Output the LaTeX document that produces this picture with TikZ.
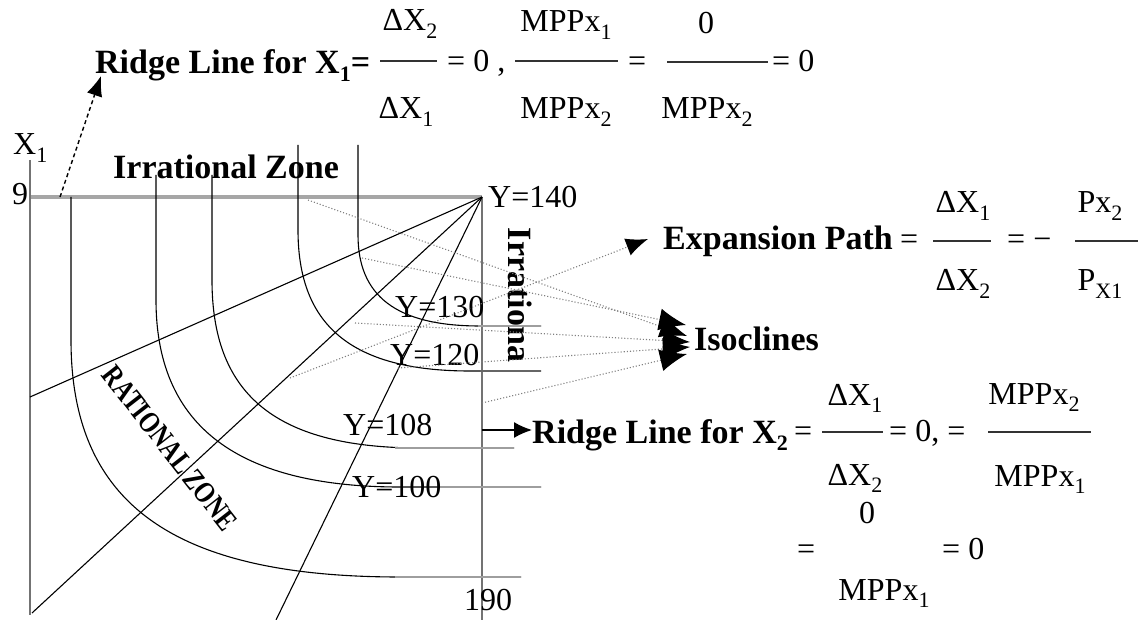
\documentclass[tikz,border=0pt]{standalone}
\usepackage{fontspec}
\setmainfont{Liberation Serif}
\usetikzlibrary{arrows.meta}
\newcommand\subs[1]{\raisebox{-0.22em}{\fontsize{22}{22}\selectfont #1}}
\begin{document}
\begin{tikzpicture}[x=1pt,y=-1pt,
  every node/.style={inner sep=0pt,font=\fontsize{32}{38}\selectfont},
  tx/.style={anchor=base west},
  cx/.style={anchor=base},
  bld/.style={font=\fontsize{34}{40}\selectfont\bfseries},
  isoq/.style={line width=1.1pt,black},
  tailg/.style={line width=2.4pt,black!38},
  rayl/.style={line width=1.1pt,black},
  frm/.style={line width=1.6pt,black!55},
  topl/.style={line width=3.2pt,black!35},
  dotl/.style={black!50,dotted,line width=1.1pt},
  fbar/.style={line width=1.4pt,black!80},
  arr/.style={-{Latex[length=22pt,width=18pt,color=black]}},
  isoarr/.style={-{Latex[length=27pt,width=22pt,color=black]}}
]
\useasboundingbox (0,0) rectangle (1138,620);

% frame
\coordinate (O) at (482,197);
\coordinate (TL) at (30,197);
\coordinate (AxTop) at (30,160);
\coordinate (AxBot) at (30,615);
\coordinate (RBot) at (482,620);
\draw[topl] (TL) -- (O);
\draw[frm] (AxTop) -- (AxBot);
\draw[frm] (O) -- (RBot);

% rays from apex
\coordinate (R1) at (30,397);
\coordinate (R2) at (32,613);
\coordinate (R3) at (276,620);
\draw[rayl] (O) -- (R1);
\draw[rayl] (O) -- (R2);
\draw[rayl] (O) -- (R3);

% isoquants
\draw[isoq] (71,197) -- (71,340) .. controls (71,505) and (175,577) .. (400,577) -- (521,577);
\draw[tailg] (395,577) -- (521,577);
\draw[isoq] (156,175) -- (156,300) .. controls (156,420) and (230,487) .. (400,487) -- (541,487);
\draw[tailg] (440,487) -- (541,487);
\draw[isoq] (212,175) -- (212,280) .. controls (212,390) and (270,448) .. (420,448) -- (514,448);
\draw[tailg] (395,448) -- (514,448);
\draw[isoq] (298,145) -- (298,230) .. controls (298,320) and (345,371) .. (470,371) -- (541,371);
\draw[tailg,black!60] (480,371) -- (541,371);
\draw[isoq] (358,145) -- (358,235) .. controls (358,295) and (395,326) .. (480,326) -- (541,326);
\draw[tailg] (478,326) -- (541,326);

% labels in the diagram
\node[tx] (x1) at (13,155) {X\subs{1}};
\node[tx] (nine) at (12,205) {9};
\node[tx,bld] (irz) at (113,179) {Irrational Zone};
\node[tx] (y140) at (488,208) {Y=140};
\node[tx] (y130) at (395,318) {Y=130};
\node[tx] (y120) at (390,365) {Y=120};
\node[tx] (y108) at (343,435) {Y=108};
\node[tx] (y100) at (352,497) {Y=100};
\node[tx] (n190) at (464,610) {190};
\node[bld,rotate=-90] (irr) at (520,295) {Irrationa};
\node[font=\fontsize{30}{34}\selectfont\bfseries,rotate=-52,xscale=0.8] (rz) at (170,448) {RATIONAL\,ZONE};

% Ridge line for X1
\node[tx,bld] (rl1) at (95,74) {Ridge Line for X\subs{1}=};
\coordinate (rl1s) at (60,197);
\coordinate (rl1e) at (101,76);
\draw[line width=1.4pt,dash pattern=on 4pt off 3pt,-{Latex[length=20pt,width=16pt,color=black]}] (rl1s) -- (rl1e);
\node[cx] (a1n) at (410,31) {ΔX\subs{2}};
\draw[fbar] (380,61) -- (437,61);
\node[cx] (a1d) at (406,119) {ΔX\subs{1}};
\node[tx] (a1eq) at (447,72) {= 0 ,};
\node[cx] (a2n) at (566,32) {MPPx\subs{1}};
\draw[fbar] (515,61) -- (618,61);
\node[cx] (a2d) at (566,119) {MPPx\subs{2}};
\node[tx] (a2eq) at (628,72) {=};
\node[cx] (a3n) at (706,34) {0};
\draw[fbar] (667,62) -- (768,62);
\node[cx] (a3d) at (707,119) {MPPx\subs{2}};
\node[tx] (a3eq) at (772,72) {= 0};

% Expansion path
\coordinate (eps) at (290,378);
\coordinate (epe) at (648,239);
\draw[dotl,arr] (eps) -- (epe);
\node[tx,bld] (ep) at (663,250) {Expansion Path};
\node[tx] (epeq) at (900,250) {=};
\node[cx] (b1n) at (963,213) {ΔX\subs{1}};
\draw[fbar] (933,241) -- (991,241);
\node[cx] (b1d) at (963,291) {ΔX\subs{2}};
\node[tx] (b1eq) at (1007,250) {= −};
\node[cx] (b2n) at (1100,213) {Px\subs{2}};
\draw[fbar] (1075,241) -- (1138,241);
\node[cx] (b2d) at (1100,291) {P\subs{X1}};

% Isoclines
\node[tx,bld] (iso) at (694,350) {Isoclines};
\coordinate (i1s) at (308,200);
\coordinate (i1e) at (687,336);
\coordinate (i2s) at (362,258);
\coordinate (i2e) at (686,325);
\coordinate (i3s) at (355,323);
\coordinate (i3e) at (690,342);
\coordinate (i4s) at (398,368);
\coordinate (i4e) at (690,347);
\coordinate (i5s) at (482,403);
\coordinate (i5e) at (687,354);
\draw[dotl,isoarr] (i1s) -- (i1e);
\draw[dotl,isoarr] (i2s) -- (i2e);
\draw[dotl,isoarr] (i3s) -- (i3e);
\draw[dotl,isoarr] (i4s) -- (i4e);
\draw[dotl,isoarr] (i5s) -- (i5e);

% Ridge line for X2
\coordinate (rl2s) at (482,430);
\coordinate (rl2e) at (532,430);
\draw[line width=1.4pt,-{Latex[length=18pt,width=16pt,color=black]}] (rl2s) -- (rl2e);
\node[tx,bld] (rl2) at (532,443) {Ridge Line for X\subs{2}};
\node[tx] (c0eq) at (794,441) {=};
\node[cx] (c1n) at (855,405) {ΔX\subs{1}};
\draw[fbar] (822,432) -- (883,432);
\node[cx] (c1d) at (855,485) {ΔX\subs{2}};
\node[tx] (c1eq) at (889,441) {= 0, =};
\node[cx] (c2n) at (1034,404) {MPPx\subs{2}};
\draw[fbar] (988,432) -- (1091,432);
\node[cx] (c2d) at (1040,486) {MPPx\subs{1}};
\node[cx] (c3n) at (867,523) {0};
\node[tx] (c3eqa) at (797,559) {=};
\node[tx] (c3eqb) at (942,559) {= 0};
\node[cx] (c3d) at (884,600) {MPPx\subs{1}};
\end{tikzpicture}
\end{document}
